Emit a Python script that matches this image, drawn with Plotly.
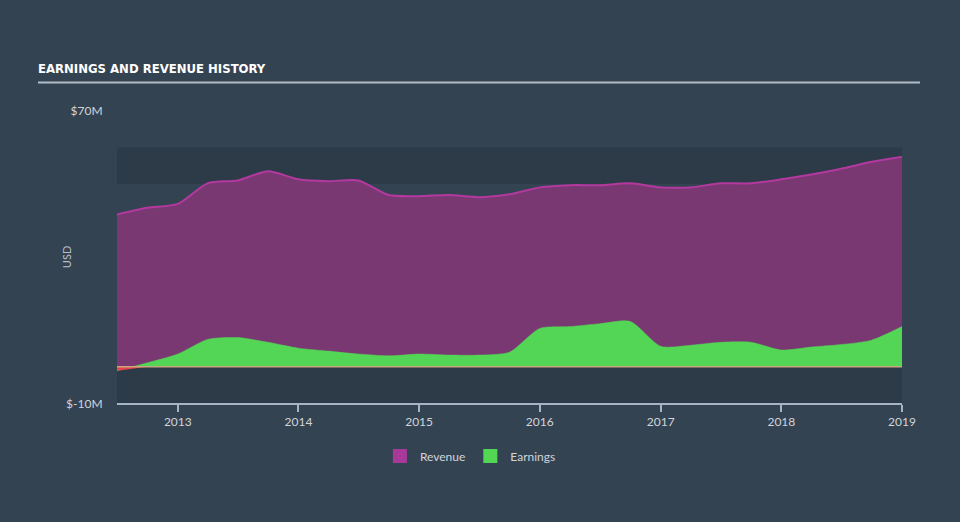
import plotly.graph_objects as go

dates = ["2012-07-01", "2012-10-01", "2013-01-01", "2013-04-01", "2013-07-01", "2013-10-01",
         "2014-01-01", "2014-04-01", "2014-07-01", "2014-10-01", "2015-01-01", "2015-04-01",
         "2015-07-01", "2015-10-01", "2016-01-01", "2016-04-01", "2016-07-01", "2016-10-01",
         "2017-01-01", "2017-04-01", "2017-07-01", "2017-10-01", "2018-01-01", "2018-04-01",
         "2018-07-01", "2018-10-01", "2019-01-01"]
revenue = [41.7, 43.5, 44.6, 50.2, 51.0, 53.5, 51.3, 50.8, 51.0, 47.0, 46.7, 47.0, 46.4, 47.2,
           49.1, 49.7, 49.7, 50.2, 49.1, 49.1, 50.2, 50.2, 51.3, 52.6, 54.2, 56.1, 57.5]
earnings = [-1.1, 1.1, 3.5, 7.5, 8.0, 6.7, 5.1, 4.3, 3.5, 3.0, 3.5, 3.2, 3.2, 4.0,
            10.5, 11.0, 11.8, 12.4, 5.6, 5.9, 6.7, 6.7, 4.6, 5.4, 6.1, 7.3, 11.0]
earnings_neg = [min(v, 0) for v in earnings]
year_ticks = ["2013-01-01", "2014-01-01", "2015-01-01", "2016-01-01", "2017-01-01",
              "2018-01-01", "2019-01-01"]
year_labels = ["2013", "2014", "2015", "2016", "2017", "2018", "2019"]
y_ticks = [-10, 70]
y_labels = ["$-10M", "$70M"]

BG = "#344352"
BAND = "#2d3a48"
FONT = "Lato, Open Sans, sans-serif"

L, R, T, B = 117, 58, 111, 113
PW, PH = 960 - L - R, 522 - T - B

fig = go.Figure()
fig.add_trace(go.Scatter(x=dates, y=revenue, mode="lines", fill="tozeroy",
                         line=dict(color="#b3399f", width=2, shape="spline", smoothing=0.7),
                         fillcolor="#7a3873", showlegend=False, hoverinfo="skip"))
fig.add_trace(go.Scatter(x=dates, y=earnings, mode="lines", fill="tozeroy",
                         line=dict(color="#53d655", width=0.5, shape="spline", smoothing=0.7),
                         fillcolor="#53d655", showlegend=False, hoverinfo="skip"))
fig.add_trace(go.Scatter(x=dates, y=earnings_neg, mode="lines", fill="tozeroy",
                         line=dict(color="#e8434d", width=0),
                         fillcolor="#e8434d", showlegend=False, hoverinfo="skip"))
fig.add_trace(go.Scatter(x=[None], y=[None], mode="markers", name="Revenue",
                         marker=dict(symbol="square", size=14, color="#a8399a")))
fig.add_trace(go.Scatter(x=[None], y=[None], mode="markers", name="Earnings",
                         marker=dict(symbol="square", size=14, color="#53d655")))

shapes = [
    dict(type="rect", xref="paper", yref="y", x0=0, x1=1, y0=50, y1=60,
         fillcolor=BAND, line=dict(width=0), layer="below"),
    dict(type="rect", xref="paper", yref="y", x0=0, x1=1, y0=-10, y1=0,
         fillcolor=BAND, line=dict(width=0), layer="below"),
    dict(type="line", xref="paper", yref="y", x0=0, x1=1, y0=0, y1=0,
         line=dict(color="#c9a77c", width=1.5), layer="above"),
    dict(type="line", xref="paper", yref="paper", x0=(38 - L) / PW, x1=(920 - L) / PW,
         y0=(522 - B - 82) / PH, y1=(522 - B - 82) / PH,
         line=dict(color="#b4bcc6", width=2)),
]

annotations = [
    dict(text="USD", xref="paper", yref="paper", x=(66 - L) / PW, y=(522 - B - 260) / PH,
         textangle=-90, showarrow=False, xanchor="center", yanchor="middle",
         font=dict(family=FONT, size=11, color="#b8bec6")),
]

fig.update_layout(
    width=960, height=522,
    paper_bgcolor=BG, plot_bgcolor=BG,
    margin=dict(l=L, r=R, t=T, b=B),
    shapes=shapes, annotations=annotations,
    title=dict(text="<b>EARNINGS AND REVENUE HISTORY</b>", x=38 / 960, xanchor="left",
               xref="container", y=1 - 68 / 522, yanchor="middle", yref="container",
               font=dict(family="Liberation Sans Narrow, DejaVu Sans Condensed, Lato, sans-serif",
                         size=13, color="#ffffff")),
    legend=dict(orientation="h", xref="container", yref="container", x=0.49, y=1 - 456 / 522,
                xanchor="center", yanchor="middle", font=dict(family=FONT, size=12, color="#d0d4da"),
                bgcolor="rgba(0,0,0,0)"),
    xaxis=dict(range=["2012-07-01", "2019-01-01"], tickvals=year_ticks, ticktext=year_labels,
               showgrid=False, zeroline=False, showline=True, linecolor="#a8b4c4", linewidth=1.5,
               ticks="outside", ticklen=7, tickcolor="#a8b4c4", tickwidth=1.5,
               tickfont=dict(family=FONT, size=12, color="#d0d4da")),
    yaxis=dict(range=[-10, 70], tickvals=y_ticks, ticktext=y_labels, showgrid=False,
               zeroline=False, showline=False, ticks="outside", ticklen=11,
               tickcolor="rgba(0,0,0,0)",
               tickfont=dict(family=FONT, size=12, color="#d0d4da")),
    hovermode=False,
)

fig.write_html("out.html")
